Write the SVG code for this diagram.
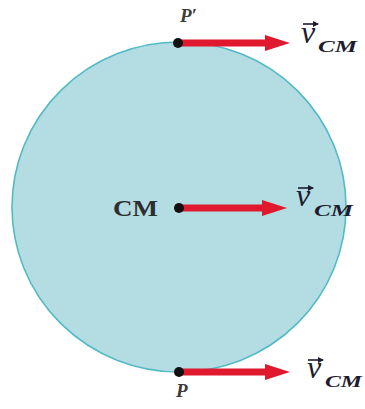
<svg xmlns="http://www.w3.org/2000/svg" width="365" height="409" viewBox="0 0 365 409">
<style>
.v{font-family:"Liberation Serif","Times New Roman",serif;font-style:italic;font-size:32px;fill:#1c1c2e}
.sub{font-family:"Liberation Serif","Times New Roman",serif;font-style:italic;font-weight:bold;font-size:17px;fill:#1c1c2e}
.pt{font-family:"Liberation Serif","Times New Roman",serif;font-style:italic;font-weight:bold;font-size:19px;fill:#3c3c3c}
.cm{font-family:"Liberation Serif","Times New Roman",serif;font-weight:bold;font-size:24px;fill:#2e2e2e}
.dot{fill:#111}
.vec{fill:#e0192e}
.ov{stroke:#1c1c2e;stroke-width:1.6;fill:none}
</style>
<defs>
<path id="arrow" d="M0,-3.5 H87 V-8 L112,0 L87,8 V3.5 H0 Z"/>
<marker id="oh" markerWidth="7" markerHeight="7" refX="5" refY="3.5" orient="auto" markerUnits="userSpaceOnUse">
<path d="M0,0.5 L6,3.5 L0,6.5 Z" fill="#1c1c2e"/>
</marker>
</defs>
<g id="wheel">
<ellipse cx="179" cy="207" rx="167" ry="165" fill="#b3dde3" stroke="#52bac5" stroke-width="1.6"/>
</g>
<g id="connectors">
<use href="#arrow" class="vec" x="178" y="43"/>
<use href="#arrow" class="vec" x="175" y="208"/>
<use href="#arrow" class="vec" x="178" y="372"/>
</g>
<g id="node-Pprime">
<circle class="dot" cx="178" cy="43" r="5"/>
<text class="pt" x="180" y="22">P′</text>
</g>
<g id="node-CM">
<circle class="dot" cx="179" cy="208" r="5"/>
<text class="cm" x="113" y="216" textLength="45" lengthAdjust="spacingAndGlyphs">CM</text>
</g>
<g id="node-P">
<circle class="dot" cx="179" cy="372" r="5"/>
<text class="pt" x="176" y="397">P</text>
</g>
<g id="label-top">
<text class="v" x="301" y="43">v</text>
<line class="ov" x1="303" y1="24" x2="318" y2="24" marker-end="url(#oh)"/>
<text class="sub" x="318" y="52" textLength="39" lengthAdjust="spacingAndGlyphs">CM</text>
</g>
<g id="label-mid">
<text class="v" x="296" y="206">v</text>
<line class="ov" x1="298" y1="188" x2="313" y2="188" marker-end="url(#oh)"/>
<text class="sub" x="314" y="216" textLength="39" lengthAdjust="spacingAndGlyphs">CM</text>
</g>
<g id="label-bot">
<text class="v" x="307" y="378">v</text>
<line class="ov" x1="308" y1="360" x2="323" y2="360" marker-end="url(#oh)"/>
<text class="sub" x="325" y="387" textLength="37" lengthAdjust="spacingAndGlyphs">CM</text>
</g>
</svg>
